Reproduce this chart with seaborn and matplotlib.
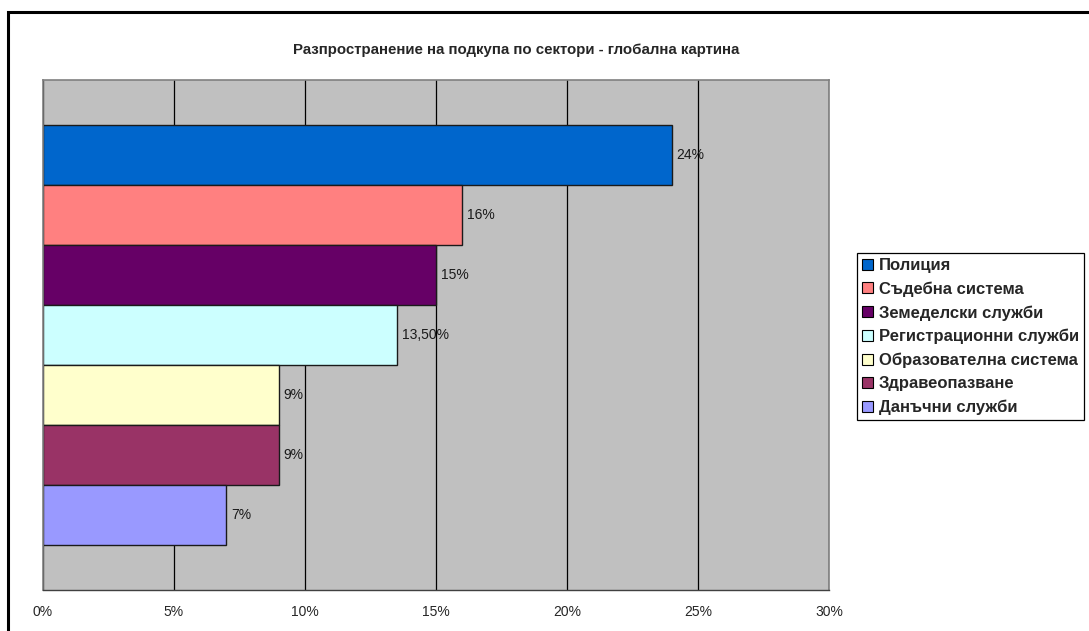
import pandas as pd
import matplotlib
matplotlib.use("Agg")
import matplotlib.pyplot as plt
import matplotlib.patches as mpatches
import seaborn as sns

# Data
sectors = ["Полиция", "Съдебна система", "Земеделски служби", "Регистрационни служби",
           "Образователна система", "Здравеопазване", "Данъчни служби"]
shares = [24, 16, 15, 13.5, 9, 9, 7]
value_labels = ["24%", "16%", "15%", "13,50%", "9%", "9%", "7%"]
colors = ["#0066CC", "#FF8080", "#660066", "#CCFFFF", "#FFFFCC", "#993366", "#9999FF"]
x_ticks = [0, 5, 10, 15, 20, 25, 30]
title = "Разпространение на подкупа по сектори - глобална картина"

df = pd.DataFrame({"group": [""] * len(sectors), "sector": sectors, "share": shares})

sns.set_style("white")
plt.rcParams["font.family"] = ["Liberation Sans", "DejaVu Sans"]

fig = plt.figure(figsize=(10.89, 6.31), dpi=100)
ax = fig.add_axes([43 / 1089, 41 / 631, 786 / 1089, 510 / 631])

sns.barplot(data=df, x="share", y="group", hue="sector", hue_order=sectors,
            palette=colors, orient="h", width=0.822, dodge=True,
            edgecolor="#1a1a1a", linewidth=1.0, saturation=1, ax=ax)

ax.set_facecolor("#C0C0C0")
ax.set_xlim(0, 30)
ax.set_ylim(0.5, -0.5)
ax.set_xticks(x_ticks)
ax.set_xticklabels([f"{t}%" for t in x_ticks], fontsize=10)
ax.set_yticks([])
ax.set_xlabel("")
ax.set_ylabel("")
ax.grid(axis="x", color="black", linewidth=0.9)
ax.set_axisbelow(True)
ax.tick_params(axis="x", direction="out", length=4, width=0.8, color="#404040", pad=7)
for side in ["left", "top", "right"]:
    ax.spines[side].set_color("#808080")
    ax.spines[side].set_linewidth(1.2)
ax.spines["bottom"].set_color("#404040")
ax.spines["bottom"].set_linewidth(1.0)

for cont, lab in zip(ax.containers, value_labels):
    ax.bar_label(cont, labels=[lab], padding=3.5, fontsize=10, color="#1a1a1a")

handles = [mpatches.Patch(facecolor=c, edgecolor="black", linewidth=0.8) for c in colors]
ax.legend(handles, sectors, loc="upper left", bbox_to_anchor=(857 / 1089, 1 - 253 / 631),
          bbox_transform=fig.transFigure, frameon=True, fancybox=False,
          edgecolor="black", framealpha=1, borderpad=0.3, labelspacing=0.5,
          handlelength=0.65, handleheight=0.65, handletextpad=0.36, borderaxespad=0,
          prop={"weight": "bold", "size": 12})
ax.get_legend().get_frame().set_linewidth(0.9)

fig.text(516 / 1089, 1 - 50 / 631, title, ha="center", va="center",
         fontsize=10.8, fontweight="bold")

# outer chart border (extends past right and bottom edges)
fig.patches.append(mpatches.Rectangle((8 / 1089, -0.05), 1.1, 1 - 12 / 631 + 0.05,
                                      transform=fig.transFigure, fill=False,
                                      edgecolor="black", linewidth=2.2))

fig.savefig("out.png", dpi=100)
